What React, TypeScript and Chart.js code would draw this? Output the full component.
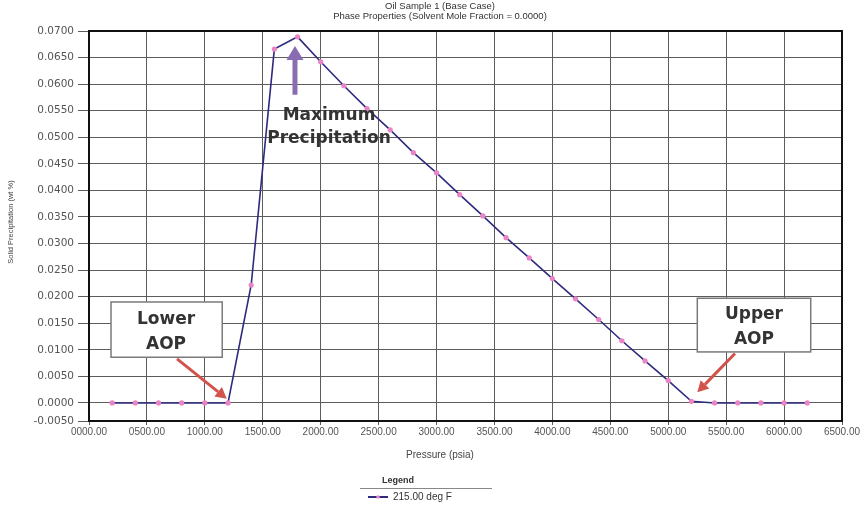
import React, { useEffect, useRef } from "react";
import { Chart, registerables } from "chart.js";

Chart.register(...registerables);

// Pressure steps of the flash calculation (psia)
const pressurePsia = [
  200, 400, 600, 800, 1000, 1200, 1400, 1600, 1800, 2000, 2200, 2400, 2600,
  2800, 3000, 3200, 3400, 3600, 3800, 4000, 4200, 4400, 4600, 4800, 5000,
  5200, 5400, 5600, 5800, 6000, 6200,
];

// Solid precipitation (wt %) at 215 deg F
const solidWtPct = [
  0, 0, 0, 0, 0, 0, 0.0222, 0.0666, 0.0689, 0.0642, 0.0597, 0.0554, 0.0514,
  0.0471, 0.0433, 0.0392, 0.0352, 0.0311, 0.0273, 0.0234, 0.0196, 0.0157,
  0.0117, 0.0079, 0.0042, 0.0003, 0, 0, 0, 0, 0,
];

// Vertical axis: the bottom edge sits a little below zero and carries the "-0.0050" label
const yAxisMin = -0.0034;
const yAxisMax = 0.07;
const yTickValues = [
  yAxisMin, 0, 0.005, 0.01, 0.015, 0.02, 0.025, 0.03, 0.035, 0.04, 0.045,
  0.05, 0.055, 0.06, 0.065, 0.07,
];
const yTickLabels = [
  "-0.0050", "0.0000", "0.0050", "0.0100", "0.0150", "0.0200", "0.0250",
  "0.0300", "0.0350", "0.0400", "0.0450", "0.0500", "0.0550", "0.0600",
  "0.0650", "0.0700",
];

const seriesLabel = "215.00 deg F";
const titleLines = [
  "Oil Sample 1 (Base Case)",
  "Phase Properties (Solvent Mole Fraction = 0.0000)",
];
const xAxisTitle = "Pressure (psia)";
const yAxisTitle = "Solid Precipitation (wt %)";
const legendTitle = "Legend";

// Callouts, placed in data units (psia, wt %)
const lowerBox = { x0: 190, x1: 1150, y0: 0.019, y1: 0.0086, lines: ["Lower", "AOP"], textX: 665, textY: [0.0157, 0.011] };
const lowerArrow = { from: [760, 0.0083], to: [1189, 0.0008] };
const upperBox = { x0: 5251, x1: 6230, y0: 0.0197, y1: 0.0096, lines: ["Upper", "AOP"], textX: 5740, textY: [0.0166, 0.0119] };
const upperArrow = { from: [5576, 0.0093], to: [5251, 0.002] };
const peakArrow = { from: [1778, 0.058], to: [1778, 0.0672] };
const peakText = { x: 2072, lines: ["Maximum", "Precipitation"], y: [0.054, 0.0497] };

function drawArrow(
  ctx: CanvasRenderingContext2D,
  x1: number, y1: number, x2: number, y2: number,
  color: string, width: number, headLen: number, headHalf: number
) {
  const ang = Math.atan2(y2 - y1, x2 - x1);
  const bx = x2 - Math.cos(ang) * headLen;
  const by = y2 - Math.sin(ang) * headLen;
  ctx.save();
  ctx.strokeStyle = color;
  ctx.fillStyle = color;
  ctx.lineWidth = width;
  ctx.lineCap = "butt";
  ctx.beginPath();
  ctx.moveTo(x1, y1);
  ctx.lineTo(bx, by);
  ctx.stroke();
  ctx.beginPath();
  ctx.moveTo(x2, y2);
  ctx.lineTo(bx + Math.sin(ang) * headHalf, by - Math.cos(ang) * headHalf);
  ctx.lineTo(bx - Math.sin(ang) * headHalf, by + Math.cos(ang) * headHalf);
  ctx.closePath();
  ctx.fill();
  ctx.restore();
}

const framePlugin = {
  id: "plotFrame",
  beforeDatasetsDraw(chart: any) {
    const { ctx, chartArea: a } = chart;
    ctx.save();
    ctx.strokeStyle = "#111";
    ctx.lineWidth = 2;
    ctx.strokeRect(a.left, a.top, a.right - a.left, a.bottom - a.top);
    ctx.restore();
  },
};

const decorPlugin = {
  id: "decor",
  afterDraw(chart: any) {
    const { ctx, chartArea: a } = chart;
    const xs = chart.scales.x;
    const ys = chart.scales.y;
    const px = (v: number) => xs.getPixelForValue(v);
    const py = (v: number) => ys.getPixelForValue(v);
    const midX = 440;

    ctx.save();
    ctx.textAlign = "center";
    ctx.textBaseline = "middle";

    // Titles
    ctx.fillStyle = "#333";
    ctx.font = "9.5px 'Liberation Sans', Arial, sans-serif";
    ctx.fillText(titleLines[0], midX, 6);
    ctx.fillText(titleLines[1], midX, 16);

    // Axis titles
    ctx.fillStyle = "#444";
    ctx.font = "10px 'Liberation Sans', Arial, sans-serif";
    ctx.fillText(xAxisTitle, midX, 455);
    ctx.save();
    ctx.translate(11, (a.top + a.bottom) / 2 - 4);
    ctx.rotate(-Math.PI / 2);
    ctx.font = "7.5px 'Liberation Sans', Arial, sans-serif";
    ctx.fillText(yAxisTitle, 0, 0);
    ctx.restore();

    // Legend
    ctx.fillStyle = "#333";
    ctx.font = "bold 9px 'Liberation Sans', Arial, sans-serif";
    ctx.fillText(legendTitle, 398, 481);
    ctx.strokeStyle = "#888";
    ctx.lineWidth = 1;
    ctx.beginPath();
    ctx.moveTo(360, 488.5);
    ctx.lineTo(492, 488.5);
    ctx.stroke();
    const ds = chart.data.datasets[0];
    ctx.strokeStyle = ds.borderColor;
    ctx.lineWidth = 2;
    ctx.beginPath();
    ctx.moveTo(368, 497);
    ctx.lineTo(388, 497);
    ctx.stroke();
    ctx.fillStyle = ds.pointBackgroundColor;
    ctx.beginPath();
    ctx.arc(378, 497, 1.8, 0, Math.PI * 2);
    ctx.fill();
    ctx.fillStyle = "#333";
    ctx.textAlign = "left";
    ctx.font = "10px 'Liberation Sans', Arial, sans-serif";
    ctx.fillText(ds.label, 393, 497);

    // Callout boxes
    ctx.textAlign = "center";
    for (const b of [lowerBox, upperBox]) {
      const l = px(b.x0), r = px(b.x1), t = py(b.y0), bt = py(b.y1);
      ctx.fillStyle = "#fff";
      ctx.fillRect(l, t, r - l, bt - t);
      ctx.strokeStyle = "#7a7a7a";
      ctx.lineWidth = 1.5;
      ctx.strokeRect(l, t, r - l, bt - t);
      ctx.fillStyle = "#333";
      ctx.font = "bold 17px 'DejaVu Sans', Verdana, sans-serif";
      ctx.fillText(b.lines[0], px(b.textX), py(b.textY[0]));
      ctx.fillText(b.lines[1], px(b.textX), py(b.textY[1]));
    }

    const red = "#d2534c";
    drawArrow(ctx, px(lowerArrow.from[0]), py(lowerArrow.from[1]), px(lowerArrow.to[0]), py(lowerArrow.to[1]), red, 3, 11, 6);
    drawArrow(ctx, px(upperArrow.from[0]), py(upperArrow.from[1]), px(upperArrow.to[0]), py(upperArrow.to[1]), red, 3, 11, 6);
    drawArrow(ctx, px(peakArrow.from[0]), py(peakArrow.from[1]), px(peakArrow.to[0]), py(peakArrow.to[1]), "#8a6cb2", 5, 14, 8.5);

    ctx.fillStyle = "#333";
    ctx.font = "bold 17px 'DejaVu Sans', Verdana, sans-serif";
    ctx.fillText(peakText.lines[0], px(peakText.x), py(peakText.y[0]));
    ctx.fillText(peakText.lines[1], px(peakText.x), py(peakText.y[1]));

    ctx.restore();
  },
};

export default function App() {
  const canvasRef = useRef<HTMLCanvasElement | null>(null);

  useEffect(() => {
    if (!canvasRef.current) return;
    const points = pressurePsia.map((p, i) => ({ x: p, y: solidWtPct[i] }));
    const chart = new Chart(canvasRef.current, {
      type: "line",
      data: {
        datasets: [
          {
            label: seriesLabel,
            data: points,
            borderColor: "#2e2b7e",
            borderWidth: 1.6,
            pointBackgroundColor: "#ea84c6",
            pointBorderColor: "#ea84c6",
            pointRadius: 2.6,
            pointBorderWidth: 0,
            tension: 0,
          },
        ],
      },
      options: {
        responsive: false,
        animation: false,
        devicePixelRatio: 1,
        layout: { padding: { top: 31, right: 25, bottom: 70, left: 0 } },
        plugins: {
          legend: { display: false },
          title: { display: false },
          tooltip: { enabled: false },
        },
        scales: {
          x: {
            type: "linear",
            min: 0,
            max: 6500,
            ticks: {
              stepSize: 500,
              autoSkip: false,
              maxRotation: 0,
              padding: 1,
              color: "#555",
              font: { family: "'Liberation Sans', Arial, sans-serif", size: 10 },
              callback: (v: any) => Number(v).toFixed(2).padStart(7, "0"),
            },
            grid: { color: "#5c5c5c", lineWidth: 1, tickLength: 4 },
            border: { display: true, color: "#111", width: 2 },
            afterFit: (s: any) => {
              s.height = 20;
            },
          },
          y: {
            min: yAxisMin,
            max: yAxisMax,
            afterBuildTicks: (s: any) => {
              s.ticks = yTickValues.map((value) => ({ value }));
            },
            ticks: {
              padding: 4,
              color: "#555",
              font: { family: "'DejaVu Sans', Verdana, sans-serif", size: 10.5 },
              callback: (_v: any, i: number) => yTickLabels[i],
            },
            grid: { color: "#5c5c5c", lineWidth: 1, tickLength: 11 },
            border: { display: true, color: "#111", width: 2 },
            afterFit: (s: any) => {
              s.width = 89;
            },
          },
        },
      },
      plugins: [framePlugin, decorPlugin],
    });
    return () => chart.destroy();
  }, []);

  return (
    <div style={{ position: "absolute", left: 0, top: 0, width: 867, height: 511, background: "#fff" }}>
      <canvas ref={canvasRef} width={867} height={511} />
    </div>
  );
}
